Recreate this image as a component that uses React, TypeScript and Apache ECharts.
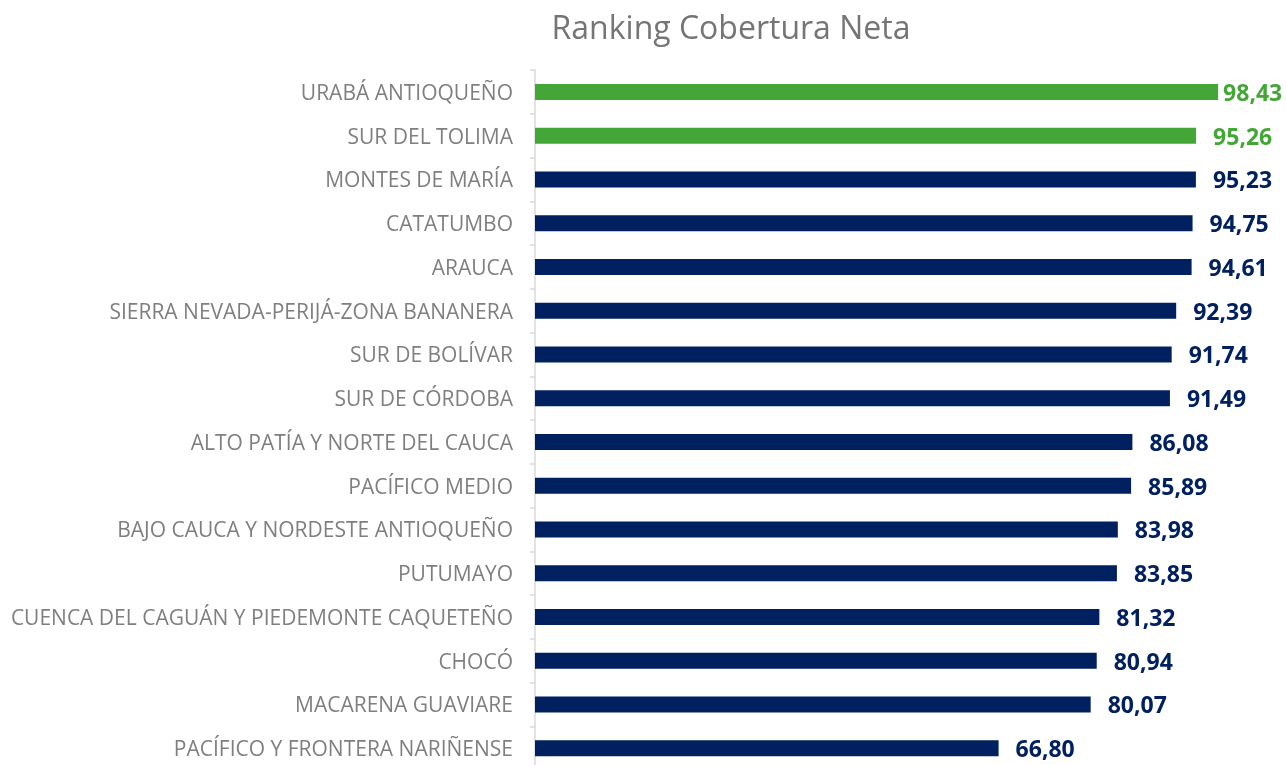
import React, { useEffect, useRef } from "react";
import * as echarts from "echarts";

const categories = [
  "URABÁ ANTIOQUEÑO",
  "SUR DEL TOLIMA",
  "MONTES DE MARÍA",
  "CATATUMBO",
  "ARAUCA",
  "SIERRA NEVADA-PERIJÁ-ZONA BANANERA",
  "SUR DE BOLÍVAR",
  "SUR DE CÓRDOBA",
  "ALTO PATÍA Y NORTE DEL CAUCA",
  "PACÍFICO MEDIO",
  "BAJO CAUCA Y NORDESTE ANTIOQUEÑO",
  "PUTUMAYO",
  "CUENCA DEL CAGUÁN Y PIEDEMONTE CAQUETEÑO",
  "CHOCÓ",
  "MACARENA GUAVIARE",
  "PACÍFICO Y FRONTERA NARIÑENSE",
];
const values = [98.43, 95.26, 95.23, 94.75, 94.61, 92.39, 91.74, 91.49, 86.08, 85.89, 83.98, 83.85, 81.32, 80.94, 80.07, 66.8];
const highlighted = [true, true, false, false, false, false, false, false, false, false, false, false, false, false, false, false];

const GREEN = "#44a637";
const NAVY = "#002060";

export default function App() {
  const ref = useRef<HTMLDivElement>(null);
  useEffect(() => {
    const chart = echarts.init(ref.current!, null, { renderer: "svg" });
    chart.setOption({
      animation: false,
      title: {
        text: "Ranking Cobertura Neta",
        left: 726,
        top: 5,
        textAlign: "center",
        textStyle: { color: "#757575", fontSize: 32, fontWeight: "normal", fontFamily: "Open Sans" },
      },
      grid: { left: 535, width: 694, top: 70, height: 700, containLabel: false },
      xAxis: {
        type: "value",
        min: 0,
        max: 100,
        show: false,
      },
      yAxis: {
        type: "category",
        data: categories,
        inverse: true,
        axisLine: { show: true, lineStyle: { color: "#d9d9d9", width: 1.5 } },
        axisTick: { show: true, length: 5, lineStyle: { color: "#d9d9d9", width: 1.5 } },
        axisLabel: { color: "#7f7f7f", fontSize: 21, fontFamily: "Open Sans", margin: 22, lineHeight: 20 },
        splitLine: { show: false },
      },
      series: [
        {
          type: "bar",
          barWidth: 16,
          data: values.map((v, i) => ({
            value: v,
            itemStyle: { color: highlighted[i] ? GREEN : NAVY },
            label: { color: highlighted[i] ? GREEN : NAVY, distance: i === 0 ? 5 : 17 },
          })),
          label: {
            show: true,
            position: "right",
            fontSize: 23,
            lineHeight: 20,
            fontWeight: "bold",
            fontFamily: "Open Sans",
            formatter: (p: any) => p.value.toFixed(2).replace(".", ","),
          },
        },
      ],
    });
    return () => chart.dispose();
  }, []);
  return (
    <div style={{ position: "fixed", left: 0, top: 0, width: 1286, height: 765, overflow: "hidden" }}>
      <div ref={ref} style={{ width: 1286, height: 800 }} />
    </div>
  );
}
